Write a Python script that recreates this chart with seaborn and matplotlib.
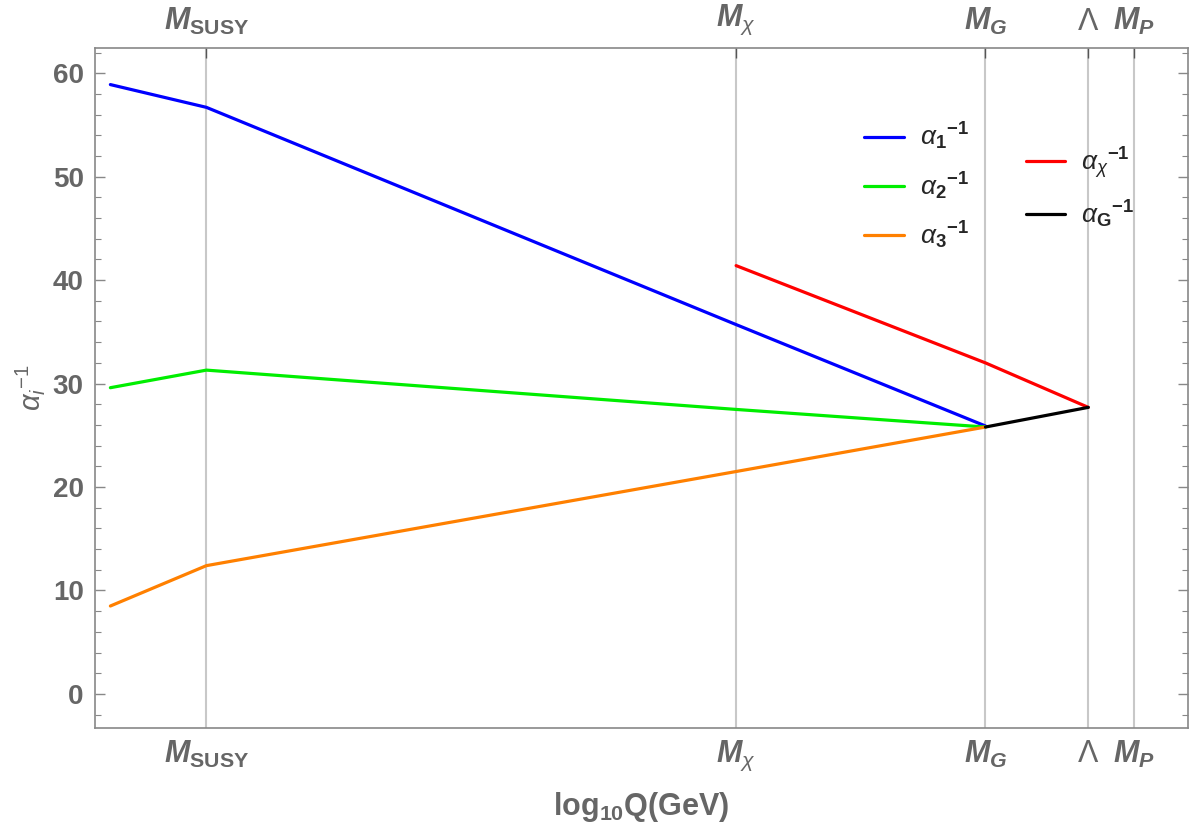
import matplotlib
matplotlib.use("Agg")
import matplotlib.pyplot as plt
import numpy as np
import pandas as pd
import seaborn as sns
from matplotlib.lines import Line2D
from matplotlib.ticker import MultipleLocator

# scales in log10(Q/GeV)
scale_names = [r"$\mathbfit{M}_{\mathbf{SUSY}}$", r"$\mathbfit{M}_{\chi}$",
               r"$\mathbfit{M}_{\mathbfit{G}}$", r"$\Lambda$",
               r"$\mathbfit{M}_{\mathbfit{P}}$"]
scale_pos = [3.5, 12.0, 16.0, 17.65, 18.38]

# inverse couplings
x_low = [1.96, 3.5, 12.0, 16.0]
a1_inv = [58.9, 56.7, 35.7, 25.9]
a2_inv = [29.6, 31.3, 27.5, 25.8]
a3_inv = [8.5, 12.4, 21.5, 25.8]
x_chi = [12.0, 16.0, 17.65]
achi_inv = [41.4, 32.0, 27.7]
x_g = [16.0, 17.65]
ag_inv = [25.8, 27.7]

series = {
    "a1": (x_low, a1_inv),
    "a2": (x_low, a2_inv),
    "a3": (x_low, a3_inv),
    "achi": (x_chi, achi_inv),
    "aG": (x_g, ag_inv),
}
colors = {"a1": "#0000ff", "a2": "#00ee00", "a3": "#ff8000",
          "achi": "#ff0000", "aG": "#000000"}
labels = {
    "a1": r"$\alpha_{\mathbf{1}}{}^{\mathbf{-1}}$",
    "a2": r"$\alpha_{\mathbf{2}}{}^{\mathbf{-1}}$",
    "a3": r"$\alpha_{\mathbf{3}}{}^{\mathbf{-1}}$",
    "achi": r"$\alpha_{\chi}{}^{\mathbf{-1}}$",
    "aG": r"$\alpha_{\mathbf{G}}{}^{\mathbf{-1}}$",
}

rows = []
for k, (xs, ys) in series.items():
    for x, y in zip(xs, ys):
        rows.append({"logQ": x, "inv": y, "coupling": k})
df = pd.DataFrame(rows)

sns.set_style("white")
plt.rcParams["font.family"] = ["Liberation Sans", "DejaVu Sans"]
plt.rcParams["mathtext.fontset"] = "custom"
plt.rcParams["mathtext.rm"] = "Liberation Sans"
plt.rcParams["mathtext.it"] = "Liberation Sans:italic"
plt.rcParams["mathtext.bf"] = "Liberation Sans:bold"
plt.rcParams["mathtext.bfit"] = "Liberation Sans:bold:italic"

gray = "#666666"
fig = plt.figure(figsize=(12, 8.34), dpi=100)
ax = fig.add_axes([0.079, 0.127, 0.911, 0.815])

for x in scale_pos:
    ax.axvline(x, color="#c8c8c8", lw=1.5, zorder=0)

sns.lineplot(data=df, x="logQ", y="inv", hue="coupling", palette=colors,
             sort=False, estimator=None, lw=2.3, legend=False, ax=ax)

ax.set_xlim(1.71, 19.25)
ax.set_ylim(-3.3, 62.4)
ax.set_xticks(scale_pos)
ax.set_xticklabels(scale_names)
ax.yaxis.set_major_locator(MultipleLocator(10))
ax.yaxis.set_minor_locator(MultipleLocator(2))

for s in ax.spines.values():
    s.set_color("#888888")
    s.set_linewidth(1.2)

ax.tick_params(axis="x", which="both", direction="in", top=True, labeltop=True,
               length=7, width=1, color="#555555", labelsize=22,
               labelcolor=gray, pad=8)
ax.tick_params(axis="y", which="major", direction="in", left=True, right=True,
               length=7, width=1, color="#888888", labelsize=20,
               labelcolor=gray, pad=8)
ax.tick_params(axis="y", which="minor", direction="in", left=True, right=True,
               length=4, width=0.8, color="#888888")
for t in ax.get_yticklabels():
    t.set_fontweight("bold")

ax.set_xlabel(r"$\mathbf{log_{10}Q(GeV)}$", fontsize=22, color=gray, labelpad=12)
ax.set_ylabel(r"$\alpha_{i}{}^{-1}$", fontsize=21, color=gray, labelpad=4)

h1 = [Line2D([], [], color=colors[k], lw=2.3) for k in ["a1", "a2", "a3"]]
leg1 = ax.legend(h1, [labels[k] for k in ["a1", "a2", "a3"]], loc="upper left",
                 bbox_to_anchor=(0.682, 0.928), frameon=False, fontsize=19,
                 handlelength=1.5, handletextpad=0.6, labelspacing=0.68)
ax.add_artist(leg1)
h2 = [Line2D([], [], color=colors[k], lw=2.3) for k in ["achi", "aG"]]
ax.legend(h2, [labels[k] for k in ["achi", "aG"]], loc="upper left",
          bbox_to_anchor=(0.83, 0.893), frameon=False, fontsize=19,
          handlelength=1.5, handletextpad=0.6, labelspacing=0.68)

fig.savefig("out.png", dpi=100)
